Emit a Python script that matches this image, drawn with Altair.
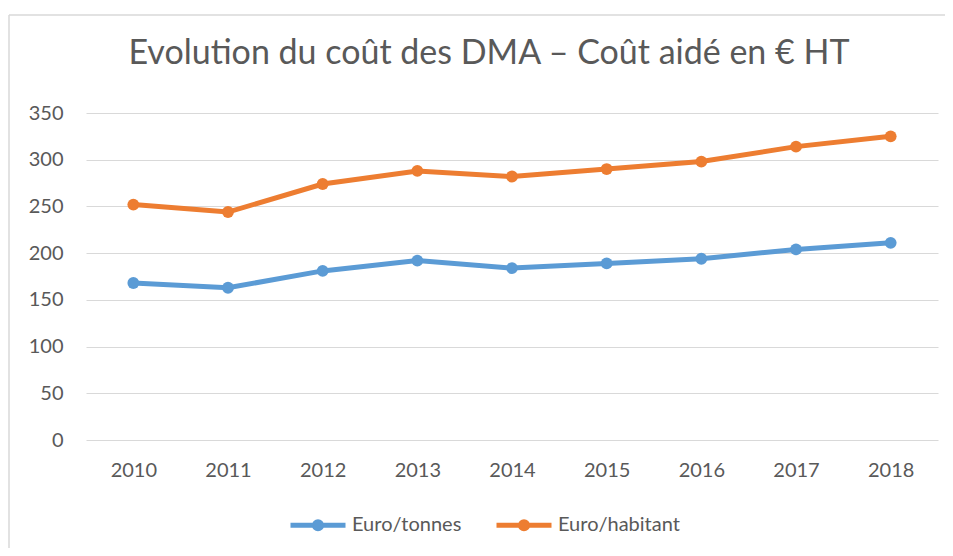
import altair as alt
import pandas as pd

years = ["2010", "2011", "2012", "2013", "2014", "2015", "2016", "2017", "2018"]
euro_tonnes = [168, 163, 181, 192, 184, 189, 194, 204, 211]
euro_habitant = [252, 244, 274, 288, 282, 290, 298, 314, 325]
series = ["Euro/tonnes", "Euro/habitant"]
colors = ["#5B9BD5", "#ED7D31"]
y_ticks = [0, 50, 100, 150, 200, 250, 300, 350]

rows = []
for name, vals in zip(series, [euro_tonnes, euro_habitant]):
    for yr, v in zip(years, vals):
        rows.append({"Année": yr, "Série": name, "Valeur": v})
df = pd.DataFrame(rows)

FONT = "Lato"
GREY = "#595959"

legend_symbol = "M-1,0L1,0M0.13,0A0.13,0.13 0 1,1 -0.13,0A0.13,0.13 0 1,1 0.13,0"

base = alt.Chart(df)

lines = base.mark_line(strokeWidth=5, point=alt.OverlayMarkDef(filled=True, size=140, opacity=1)).encode(
    x=alt.X("Année:O", sort=years, title=None,
            axis=alt.Axis(labelAngle=0, labelFontSize=20, labelColor=GREY, labelFont=FONT,
                          labelPadding=20, ticks=False, domain=False, grid=False)),
    y=alt.Y("Valeur:Q", title=None,
            scale=alt.Scale(domain=[0, 350], nice=False),
            axis=alt.Axis(values=y_ticks, labelFontSize=20, labelColor=GREY, labelFont=FONT,
                          labelPadding=23, ticks=False, domain=False, grid=True,
                          gridColor="#d9d9d9", gridWidth=1)),
    color=alt.Color("Série:N", sort=series,
                    scale=alt.Scale(domain=series, range=colors),
                    legend=alt.Legend(title=None, orient="none", direction="horizontal",
                                      legendX=202, legendY=382,
                                      symbolType=legend_symbol, symbolSize=3025,
                                      symbolStrokeWidth=5, labelFontSize=20,
                                      labelFont=FONT, labelColor=GREY, labelOffset=4,
                                      columnPadding=24)),
)

frame_df = pd.DataFrame({"k": [0]})
top_border = alt.Chart(frame_df).mark_rule(stroke="#d9d9d9", strokeWidth=1.5, clip=False).encode(
    x=alt.value(-77), x2=alt.value(859), y=alt.value(-98))
left_border = alt.Chart(frame_df).mark_rule(stroke="#d9d9d9", strokeWidth=1.5, clip=False).encode(
    x=alt.value(-77), y=alt.value(-98), y2=alt.value(435))

chart = alt.layer(top_border, left_border, lines).properties(
    width=852, height=327,
    title=alt.Title("Evolution du coût des DMA – Coût aidé en € HT", fontSize=34,
                    font=FONT, fontWeight="normal", color=GREY, anchor="middle", dx=-23,
                    baseline="alphabetic", dy=88),
    autosize=alt.AutoSizeParams(type="none"),
    padding={"left": 78, "top": 105, "right": 7, "bottom": 108},
).configure_view(stroke=None)

chart.save("out.html", embed_options={"renderer": "svg", "actions": False})
